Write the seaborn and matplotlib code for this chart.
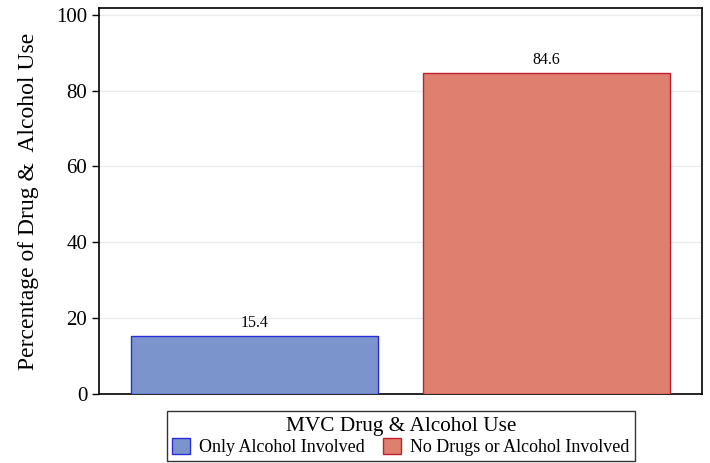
import pandas as pd
import numpy as np
import seaborn as sns
import matplotlib.pyplot as plt
from matplotlib.patches import Patch

# Data
categories = ['Only Alcohol Involved', 'No Drugs or Alcohol Involved']
percentages = [15.4, 84.6]
fill_colors = ['#7B95CC', '#DF7F6F']
edge_colors = ['#2B2BD9', '#C0202E']
yticks = [0, 20, 40, 60, 80, 100]

sns.set_style('white')
plt.rcParams['font.family'] = ['Liberation Serif', 'DejaVu Serif']
plt.rcParams['text.color'] = 'black'
plt.rcParams['axes.labelcolor'] = 'black'
plt.rcParams['ytick.color'] = 'black'

df = pd.DataFrame({'group': categories, 'pct': percentages})

fig = plt.figure(figsize=(7.1, 4.63), dpi=100)
ax = fig.add_axes([99 / 710, 1 - 394 / 463, 603 / 710, 386 / 463])

sns.barplot(data=df, x='group', y='pct', hue='group', palette=fill_colors,
            saturation=1, width=0.846, legend=False, ax=ax, zorder=3)
for patch, ec in zip(ax.patches, edge_colors):
    patch.set_edgecolor(ec)
    patch.set_linewidth(1.0)

# Value labels above bars
for patch, val in zip(ax.patches, percentages):
    ax.text(patch.get_x() + patch.get_width() / 2, val + 1.3, f'{val:.1f}',
            ha='center', va='bottom', fontsize=11.5)

ax.set_xlim(-0.533, 1.533)
ax.set_ylim(0, 101.8)
ax.set_yticks(yticks)
ax.set_xticks([])
ax.set_xlabel('')
ax.set_ylabel('Percentage of Drug &  Alcohol Use', fontsize=17, labelpad=12)
ax.tick_params(axis='y', direction='out', length=5, width=1, color='black',
               labelsize=15, left=True)
ax.grid(axis='y', color='#EBEBEB', linewidth=1, zorder=0)
for s in ax.spines.values():
    s.set_color('black')
    s.set_linewidth(1.2)

handles = [Patch(facecolor=fc, edgecolor=ec, label=c)
           for fc, ec, c in zip(fill_colors, edge_colors, categories)]
leg = fig.legend(handles=handles, title='MVC Drug & Alcohol Use', ncol=2,
                 loc='lower center', bbox_to_anchor=(401 / 710, 0.0),
                 fontsize=13, title_fontsize=15.3, frameon=True, fancybox=False,
                 edgecolor='black', handlelength=1.0, handleheight=1.0,
                 handletextpad=0.5, columnspacing=1.0, borderpad=0.3,
                 labelspacing=0.1, borderaxespad=0.1)
leg.get_frame().set_linewidth(1.0)

fig.savefig('out.png', dpi=100)
